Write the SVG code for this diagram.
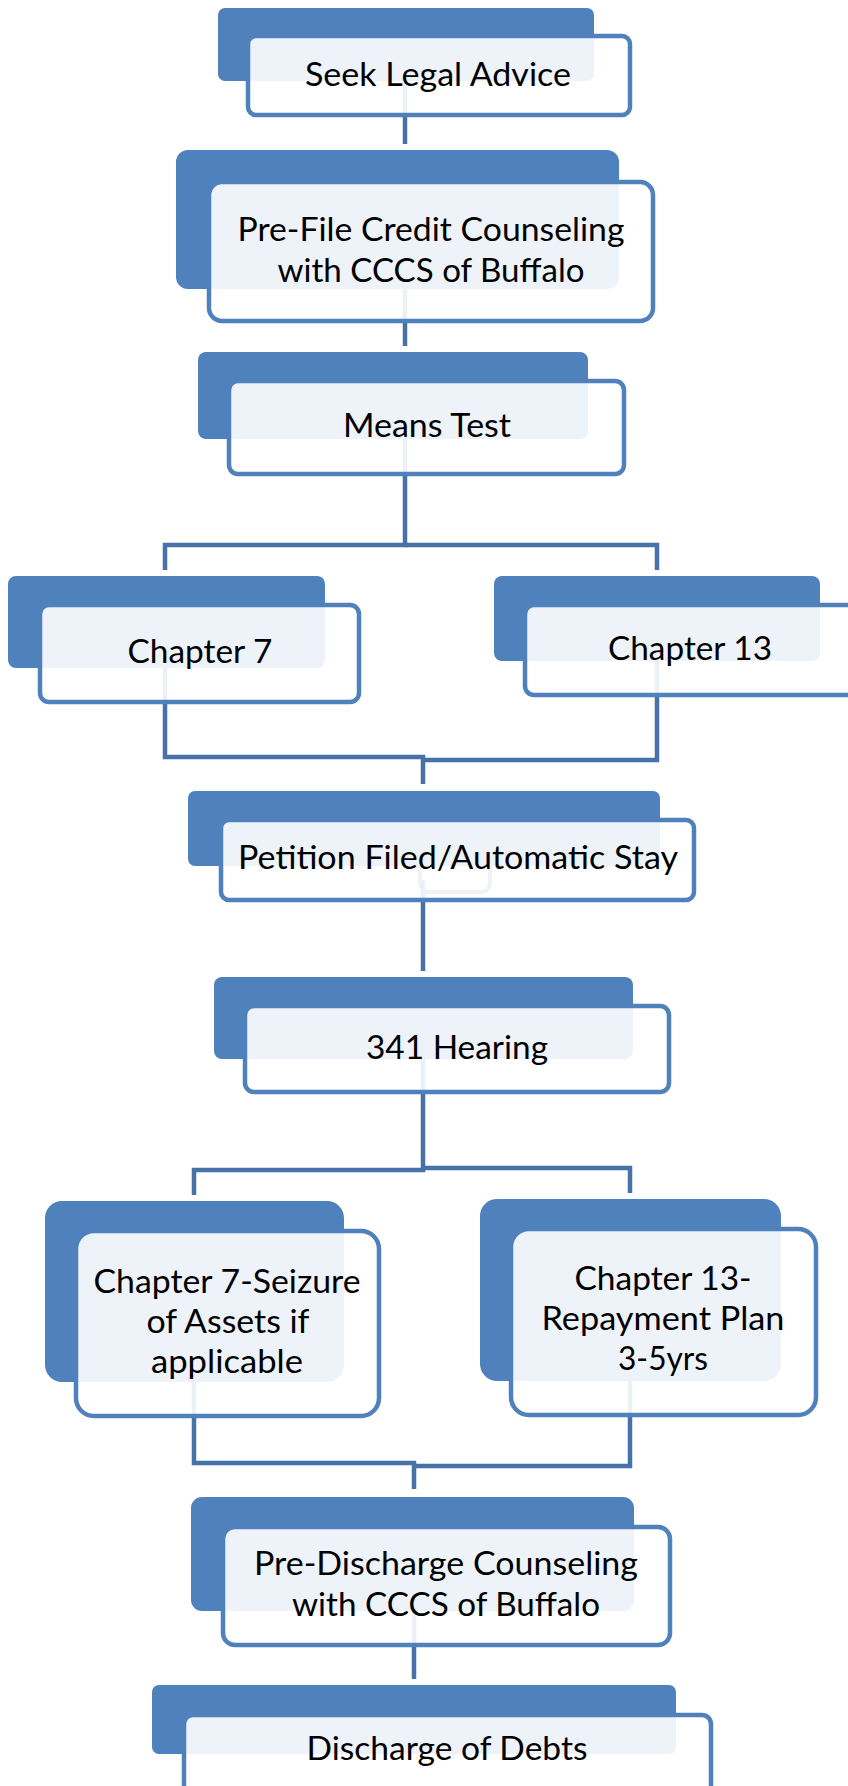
<svg xmlns="http://www.w3.org/2000/svg" width="848" height="1786" viewBox="0 0 848 1786">
<style>
.dark{fill:#4f81bd;}
.light{fill:#ffffff;fill-opacity:0.9;stroke:#4f81bd;stroke-width:4.5;}
.conn{fill:none;stroke:#4672a8;stroke-width:4.5;stroke-linejoin:miter;}
.t{font-family:Lato,"Open Sans","Liberation Sans",sans-serif;font-size:32px;fill:#000000;text-anchor:middle;}
</style>
<rect width="848" height="1786" fill="#ffffff"/>
<g id="connectors">
<path class="conn" d="M405,60 V144"/>
<path class="conn" d="M405,250 V346"/>
<path class="conn" d="M405,430 V545 H165 V570"/>
<path class="conn" d="M405,545 H657 V570"/>
<path class="conn" d="M165,650 V757 H423 V784"/>
<path class="conn" d="M657,640 V760 H423"/>
<rect x="420" y="845" width="70" height="47" rx="9" fill="none" stroke="#4f81bd" stroke-width="4"/>
<path class="conn" d="M423,880 V971"/>
<path class="conn" d="M423,1050 V1170 H194 V1195"/>
<path class="conn" d="M423,1168 H630 V1193"/>
<path class="conn" d="M194,1370 V1463 H414 V1489"/>
<path class="conn" d="M630,1370 V1466 H414"/>
<path class="conn" d="M414,1600 V1679"/>
</g>
<g id="n1">
<rect class="dark" x="218" y="8" width="376" height="73" rx="7"/>
<rect class="light" x="248" y="36" width="382" height="79" rx="8"/>
<text class="t" x="438" y="86" textLength="266" lengthAdjust="spacingAndGlyphs">Seek Legal Advice</text>
</g>
<g id="n2">
<rect class="dark" x="176" y="150" width="443" height="139" rx="12"/>
<rect class="light" x="209" y="182" width="444" height="139" rx="13"/>
<text class="t" x="431" y="241" textLength="387" lengthAdjust="spacingAndGlyphs">Pre-File Credit Counseling</text>
<text class="t" x="431" y="282" textLength="307" lengthAdjust="spacingAndGlyphs">with CCCS of Buffalo</text>
</g>
<g id="n3">
<rect class="dark" x="198" y="352" width="390" height="87" rx="8"/>
<rect class="light" x="229" y="381" width="395" height="93" rx="9"/>
<text class="t" x="427" y="437" textLength="168" lengthAdjust="spacingAndGlyphs">Means Test</text>
</g>
<g id="n4">
<rect class="dark" x="8" y="576" width="317" height="92" rx="8"/>
<rect class="light" x="40" y="605" width="319" height="97" rx="9"/>
<text class="t" x="200" y="663" textLength="145" lengthAdjust="spacingAndGlyphs">Chapter 7</text>
</g>
<g id="n5">
<rect class="dark" x="494" y="576" width="326" height="85" rx="8"/>
<rect class="light" x="525" y="605" width="345" height="90" rx="9"/>
<text class="t" x="690" y="660" textLength="164" lengthAdjust="spacingAndGlyphs">Chapter 13</text>
</g>
<g id="n6">
<rect class="dark" x="188" y="791" width="472" height="75" rx="7"/>
<rect class="light" x="221" y="820" width="473" height="80" rx="8"/>
<text class="t" x="458" y="869" textLength="440" lengthAdjust="spacingAndGlyphs">Petition Filed/Automatic Stay</text>
</g>
<g id="n7">
<rect class="dark" x="214" y="977" width="419" height="82" rx="8"/>
<rect class="light" x="245" y="1006" width="424" height="86" rx="9"/>
<text class="t" x="457" y="1059" textLength="182" lengthAdjust="spacingAndGlyphs">341 Hearing</text>
</g>
<g id="n8">
<rect class="dark" x="45" y="1201" width="299" height="181" rx="17"/>
<rect class="light" x="76" y="1231" width="303" height="185" rx="18"/>
<text class="t" x="227" y="1293" textLength="267" lengthAdjust="spacingAndGlyphs">Chapter 7-Seizure</text>
<text class="t" x="228" y="1333" textLength="163" lengthAdjust="spacingAndGlyphs">of Assets if</text>
<text class="t" x="227" y="1373" textLength="152" lengthAdjust="spacingAndGlyphs">applicable</text>
</g>
<g id="n9">
<rect class="dark" x="480" y="1199" width="301" height="182" rx="17"/>
<rect class="light" x="511" y="1229" width="305" height="186" rx="18"/>
<text class="t" x="663" y="1290" textLength="177" lengthAdjust="spacingAndGlyphs">Chapter 13-</text>
<text class="t" x="663" y="1330" textLength="243" lengthAdjust="spacingAndGlyphs">Repayment Plan</text>
<text class="t" x="663" y="1370" textLength="90" lengthAdjust="spacingAndGlyphs">3-5yrs</text>
</g>
<g id="n10">
<rect class="dark" x="191" y="1497" width="443" height="114" rx="11"/>
<rect class="light" x="223" y="1527" width="447" height="118" rx="12"/>
<text class="t" x="446" y="1575" textLength="384" lengthAdjust="spacingAndGlyphs">Pre-Discharge Counseling</text>
<text class="t" x="446" y="1616" textLength="308" lengthAdjust="spacingAndGlyphs">with CCCS of Buffalo</text>
</g>
<g id="n11">
<rect class="dark" x="152" y="1685" width="524" height="69" rx="7"/>
<rect class="light" x="184" y="1715" width="527" height="100" rx="9"/>
<text class="t" x="447" y="1760" textLength="281" lengthAdjust="spacingAndGlyphs">Discharge of Debts</text>
</g>
</svg>
